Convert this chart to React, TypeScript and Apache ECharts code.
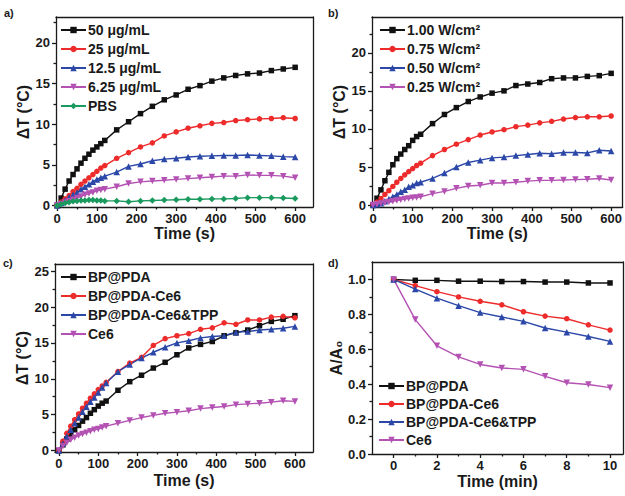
import React, { useEffect, useRef } from "react";
import * as echarts from "echarts";

// ---------- data ----------
const timesS = [0, 10, 20, 30, 40, 50, 60, 70, 80, 90, 100, 110, 120, 150, 180, 210, 240, 270, 300, 330, 360, 390, 420, 450, 480, 510, 540, 570, 600];
const timesMin = [0, 1, 2, 3, 4, 5, 6, 7, 8, 9, 10];

// panel a (concentration)
const namesA = ["50 μg/mL", "25 μg/mL", "12.5 μg/mL", "6.25 μg/mL", "PBS"];
const a50 = [0, 0.9, 2.0, 3.0, 3.8, 4.5, 5.2, 5.8, 6.3, 6.8, 7.2, 7.6, 8.0, 9.3, 10.3, 11.3, 12.2, 13.0, 13.6, 14.3, 14.75, 15.3, 15.7, 16.0, 16.2, 16.3, 16.6, 16.8, 17.0];
const a25 = [0, 0.4, 0.8, 1.2, 1.7, 2.1, 2.6, 3.0, 3.4, 3.8, 4.2, 4.6, 4.9, 5.8, 6.5, 7.2, 7.7, 8.55, 9.05, 9.5, 9.8, 10.1, 10.2, 10.45, 10.55, 10.65, 10.7, 10.8, 10.7];
const a125 = [0, 0.3, 0.6, 1.0, 1.3, 1.6, 2.0, 2.3, 2.6, 2.9, 3.2, 3.4, 3.6, 4.1, 4.8, 5.1, 5.5, 5.7, 5.8, 5.95, 6.05, 6.1, 6.15, 6.15, 6.2, 6.15, 6.1, 6.0, 5.95];
const a625 = [0, 0.15, 0.35, 0.5, 0.7, 0.9, 1.1, 1.3, 1.45, 1.6, 1.8, 1.9, 2.0, 2.3, 2.7, 2.9, 3.0, 3.1, 3.2, 3.3, 3.4, 3.5, 3.6, 3.6, 3.75, 3.7, 3.7, 3.6, 3.4];
const aPBS = [0, 0.15, 0.3, 0.4, 0.5, 0.55, 0.6, 0.6, 0.65, 0.65, 0.6, 0.6, 0.55, 0.55, 0.45, 0.55, 0.6, 0.65, 0.7, 0.75, 0.75, 0.8, 0.8, 0.85, 0.95, 0.95, 0.95, 0.9, 0.85];

// panel b (power density)
const namesB = ["1.00 W/cm²", "0.75 W/cm²", "0.50 W/cm²", "0.25 W/cm²"];
const b100 = [0, 0.9, 2.0, 3.2, 4.3, 5.3, 6.1, 6.7, 7.3, 7.8, 8.5, 9.0, 9.3, 10.7, 11.9, 12.8, 13.6, 14.2, 14.7, 15.0, 15.7, 15.9, 16.1, 16.6, 16.7, 16.7, 16.9, 17.0, 17.3];
const b075 = [0, 0.4, 0.85, 1.4, 1.9, 2.45, 3.0, 3.5, 3.97, 4.4, 4.8, 5.2, 5.5, 6.5, 7.3, 8.0, 8.6, 9.2, 9.6, 9.9, 10.3, 10.5, 10.8, 11.0, 11.3, 11.5, 11.6, 11.6, 11.7];
const b050 = [0, 0.1, 0.25, 0.5, 0.8, 1.1, 1.4, 1.75, 2.0, 2.4, 2.6, 2.9, 3.0, 3.5, 4.2, 5.0, 5.6, 5.9, 6.2, 6.3, 6.5, 6.65, 6.8, 6.75, 6.9, 6.9, 6.85, 7.2, 7.1];
const b025 = [0, 0.1, 0.2, 0.3, 0.4, 0.5, 0.6, 0.7, 0.8, 0.85, 0.95, 1.0, 1.1, 1.5, 1.8, 2.2, 2.5, 2.6, 2.9, 2.9, 3.0, 3.15, 3.25, 3.25, 3.3, 3.35, 3.4, 3.5, 3.3];

// panel c (samples, heating)
const namesCD = ["BP@PDA", "BP@PDA-Ce6", "BP@PDA-Ce6&TPP", "Ce6"];
const cBP = [0, 0.8, 1.6, 2.3, 2.9, 3.5, 4.1, 4.6, 5.2, 5.7, 6.2, 6.6, 6.9, 8.4, 9.6, 10.5, 11.5, 12.3, 13.35, 14.3, 14.8, 15.2, 16.0, 16.4, 16.8, 17.4, 18.0, 18.3, 18.8];
const cBPCe6 = [0, 1.3, 2.4, 3.4, 4.3, 5.1, 5.9, 6.6, 7.3, 7.9, 8.5, 9.0, 9.5, 11.0, 12.2, 13.0, 14.65, 15.6, 16.0, 16.3, 16.9, 17.1, 17.8, 17.6, 18.2, 18.2, 18.6, 18.7, 18.5];
const cBPTPP = [0, 1.0, 2.0, 2.9, 3.8, 4.6, 5.4, 6.1, 6.8, 7.4, 8.1, 8.8, 9.4, 11.0, 12.0, 12.9, 13.7, 14.4, 15.0, 15.3, 15.7, 15.9, 16.0, 16.5, 16.6, 16.8, 16.9, 17.05, 17.3];
const cCe6 = [0, 0.6, 1.1, 1.5, 1.8, 2.1, 2.3, 2.5, 2.7, 2.9, 3.0, 3.2, 3.4, 3.8, 4.2, 4.6, 4.9, 5.2, 5.35, 5.55, 5.85, 6.0, 6.15, 6.4, 6.5, 6.6, 6.75, 6.95, 6.85];

// panel d (A/A0)
const dBP = [1.0, 0.995, 0.995, 0.99, 0.99, 0.988, 0.988, 0.985, 0.985, 0.98, 0.98];
const dBPCe6 = [1.0, 0.965, 0.93, 0.9, 0.875, 0.855, 0.815, 0.79, 0.775, 0.74, 0.71];
const dBPTPP = [1.0, 0.945, 0.893, 0.85, 0.81, 0.785, 0.76, 0.722, 0.698, 0.673, 0.645];
const dCe6 = [1.0, 0.77, 0.62, 0.556, 0.513, 0.493, 0.485, 0.445, 0.408, 0.398, 0.38];

// ticks
const xTicksS = [0, 100, 200, 300, 400, 500, 600];
const xMinorS = [50, 150, 250, 350, 450, 550];
const yTicksAB = [0, 5, 10, 15, 20];
const yMinorAB = [2.5, 7.5, 12.5, 17.5, 22.5];
const yTicksC = [0, 5, 10, 15, 20, 25];
const yMinorC = [2.5, 7.5, 12.5, 17.5, 22.5];
const xTicksMin = [0, 2, 4, 6, 8, 10];
const xMinorMin = [1, 3, 5, 7, 9];
const yTicksD = [0, 0.2, 0.4, 0.6, 0.8, 1.0];
const yMinorD = [0.1, 0.3, 0.5, 0.7, 0.9];

const FONT = "Liberation Sans, Arial, Helvetica, sans-serif";
const AX = "#1a1a1a";
const C_BLACK = "#111111";
const C_RED = "#ee2b2b";
const C_BLUE = "#2b47a8";
const C_MAG = "#b452b4";
const C_GREEN = "#1a9a5e";

function axesFor(gi: number, cfg: any) {
  const line = { color: AX, width: 1.3 };
  const x = [
    {
      type: "value", gridIndex: gi, position: "bottom", min: cfg.xmin, max: cfg.xmax,
      axisLine: { show: true, onZero: false, lineStyle: line },
      axisTick: { show: true, customValues: cfg.xMajor, length: 4, lineStyle: line },
      axisLabel: { customValues: cfg.xMajor, fontFamily: FONT, fontSize: 13, fontWeight: "bold", color: AX, margin: 5 },
      splitLine: { show: false },
      name: cfg.xName, nameLocation: "middle", nameGap: cfg.xGap,
      nameTextStyle: { fontFamily: FONT, fontSize: 16, fontWeight: "bold", color: AX },
    },
    {
      type: "value", gridIndex: gi, position: "bottom", min: cfg.xmin, max: cfg.xmax,
      axisLine: { show: false, onZero: false },
      axisTick: { show: true, customValues: cfg.xMinor, length: 2.5, lineStyle: line },
      axisLabel: { show: false }, splitLine: { show: false },
    },
    {
      type: "value", gridIndex: gi, position: "top", min: cfg.xmin, max: cfg.xmax,
      axisLine: { show: true, onZero: false, lineStyle: line },
      axisTick: { show: false }, axisLabel: { show: false }, splitLine: { show: false },
    },
  ];
  const y = [
    {
      type: "value", gridIndex: gi, position: "left", min: cfg.ymin, max: cfg.ymax,
      axisLine: { show: true, onZero: false, lineStyle: line },
      axisTick: { show: true, customValues: cfg.yMajor, length: 4, lineStyle: line },
      axisLabel: {
        customValues: cfg.yMajor, fontFamily: FONT, fontSize: 13, fontWeight: "bold", color: AX, margin: 6,
        formatter: cfg.yFmt || ((v: number) => String(v)),
      },
      splitLine: { show: false },
      name: cfg.yName, nameLocation: "middle", nameGap: cfg.yGap,
      nameTextStyle: { fontFamily: FONT, fontSize: 16, fontWeight: "bold", color: AX },
    },
    {
      type: "value", gridIndex: gi, position: "left", min: cfg.ymin, max: cfg.ymax,
      axisLine: { show: false, onZero: false },
      axisTick: { show: true, customValues: cfg.yMinor, length: 2.5, lineStyle: line },
      axisLabel: { show: false }, splitLine: { show: false },
    },
    {
      type: "value", gridIndex: gi, position: "right", min: cfg.ymin, max: cfg.ymax,
      axisLine: { show: true, onZero: false, lineStyle: line },
      axisTick: { show: false }, axisLabel: { show: false }, splitLine: { show: false },
    },
  ];
  return { x, y };
}

function mkSeries(gi: number, name: string, xs: number[], ys: number[], color: string, symbol: string, rotate = 0, size = 5.5) {
  return {
    type: "line", name, xAxisIndex: gi * 3, yAxisIndex: gi * 3,
    data: xs.map((t, i) => [t, ys[i]]),
    symbol, symbolSize: size, symbolRotate: rotate,
    itemStyle: { color },
    lineStyle: { color, width: 1.4 },
  };
}

function legendFor(names: string[], left: number, top: number, gap: number) {
  return {
    data: names, left, top, orient: "vertical", itemWidth: 25, itemHeight: 8, itemGap: gap,
    selectedMode: false, padding: 0,
    textStyle: { fontFamily: FONT, fontSize: 14, fontWeight: "bold", color: AX, padding: [0, 0, 0, -3] },
  };
}

export default function App() {
  const ref = useRef<HTMLDivElement>(null);
  useEffect(() => {
    if (!ref.current) return;
    const chart = echarts.init(ref.current, null, { renderer: "svg" });
    const A = axesFor(0, { xmin: -3, xmax: 645, xMajor: xTicksS, xMinor: xMinorS, ymin: -0.2, ymax: 23.2, yMajor: yTicksAB, yMinor: yMinorAB, xName: "Time (s)", yName: "ΔT (°C)", xGap: 18, yGap: 25 });
    const B = axesFor(1, { xmin: -2.5, xmax: 629, xMajor: xTicksS, xMinor: xMinorS, ymin: -0.25, ymax: 24.7, yMajor: yTicksAB, yMinor: yMinorAB, xName: "Time (s)", yName: "ΔT (°C)", xGap: 18, yGap: 25 });
    const C = axesFor(2, { xmin: -10, xmax: 646, xMajor: xTicksS, xMinor: xMinorS, ymin: -0.2, ymax: 26, yMajor: yTicksC, yMinor: yMinorC, xName: "Time (s)", yName: "ΔT (°C)", xGap: 20, yGap: 24 });
    const D = axesFor(3, { xmin: -1, xmax: 10.6, xMajor: xTicksMin, xMinor: xMinorMin, ymin: 0, ymax: 1.1, yMajor: yTicksD, yMinor: yMinorD, xName: "Time (min)", yName: "A/A₀", xGap: 19, yGap: 28, yFmt: (v: number) => v.toFixed(1) });

    const option: any = {
      animation: false,
      backgroundColor: "#ffffff",
      grid: [
        { left: 56, top: 17, width: 257, height: 190 },
        { left: 372, top: 17, width: 251, height: 190 },
        { left: 55, top: 264, width: 258, height: 188 },
        { left: 372, top: 262, width: 251, height: 192 },
      ],
      xAxis: [...A.x, ...B.x, ...C.x, ...D.x],
      yAxis: [...A.y, ...B.y, ...C.y, ...D.y],
      legend: [
        legendFor(namesA, 60, 23, 5),
        legendFor(namesB, 379, 23, 5),
        legendFor(namesCD, 60, 270, 5),
        legendFor(namesCD, 378, 379, 4),
      ],
      graphic: [
        { type: "text", left: 4, top: 7, style: { text: "a)", font: `bold 11px ${FONT}`, fill: AX } },
        { type: "text", left: 328, top: 7, style: { text: "b)", font: `bold 11px ${FONT}`, fill: AX } },
        { type: "text", left: 3, top: 257, style: { text: "c)", font: `bold 11px ${FONT}`, fill: AX } },
        { type: "text", left: 328, top: 257, style: { text: "d)", font: `bold 11px ${FONT}`, fill: AX } },
      ],
      series: [
        mkSeries(0, namesA[0], timesS, a50, C_BLACK, "rect"),
        mkSeries(0, namesA[1], timesS, a25, C_RED, "circle"),
        mkSeries(0, namesA[2], timesS, a125, C_BLUE, "triangle", 0, 6.5),
        mkSeries(0, namesA[3], timesS, a625, C_MAG, "triangle", 180, 6.5),
        mkSeries(0, namesA[4], timesS, aPBS, C_GREEN, "diamond", 0, 6.5),
        mkSeries(1, namesB[0], timesS, b100, C_BLACK, "rect"),
        mkSeries(1, namesB[1], timesS, b075, C_RED, "circle"),
        mkSeries(1, namesB[2], timesS, b050, C_BLUE, "triangle", 0, 6.5),
        mkSeries(1, namesB[3], timesS, b025, C_MAG, "triangle", 180, 6.5),
        mkSeries(2, namesCD[0], timesS, cBP, C_BLACK, "rect"),
        mkSeries(2, namesCD[1], timesS, cBPCe6, C_RED, "circle"),
        mkSeries(2, namesCD[2], timesS, cBPTPP, C_BLUE, "triangle", 0, 6.5),
        mkSeries(2, namesCD[3], timesS, cCe6, C_MAG, "triangle", 180, 6.5),
        mkSeries(3, namesCD[0], timesMin, dBP, C_BLACK, "rect"),
        mkSeries(3, namesCD[1], timesMin, dBPCe6, C_RED, "circle"),
        mkSeries(3, namesCD[2], timesMin, dBPTPP, C_BLUE, "triangle", 0, 6.5),
        mkSeries(3, namesCD[3], timesMin, dCe6, C_MAG, "triangle", 180, 6.5),
      ],
    };
    chart.setOption(option);
    return () => chart.dispose();
  }, []);
  return (
    <div
      ref={ref}
      style={{ position: "fixed", left: 0, top: 0, width: 625, height: 496, background: "#fff" }}
    />
  );
}
